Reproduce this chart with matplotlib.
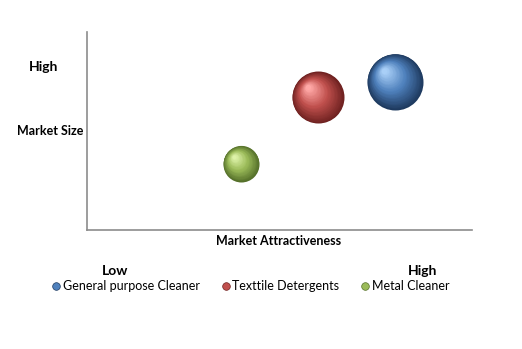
import matplotlib
matplotlib.use("Agg")
import matplotlib.pyplot as plt
import matplotlib.transforms as mtransforms
import numpy as np
from matplotlib.colors import to_rgb
from matplotlib.lines import Line2D

# data
products = ["General purpose Cleaner", "Texttile Detergents", "Metal Cleaner"]
attractiveness = [8.0, 6.0, 4.0]
market_size = [7.5, 6.7, 3.35]
bubble_radius = [28, 26, 18]  # relative bubble size

base_colors = ["#4F81BD", "#C0504D", "#9BBB59"]
dark_colors = ["#1E3A5F", "#6E2120", "#55702A"]
light_colors = ["#A9CFF7", "#FFA8A6", "#DDF2A8"]

plt.rcParams["font.family"] = ["Lato", "DejaVu Sans"]

fig = plt.figure(figsize=(5.22, 3.49), dpi=100)
ax = fig.add_axes([87 / 522, 1 - 230 / 349, 385 / 522, 198 / 349])
ax.set_xlim(0, 10)
ax.set_ylim(0, 10)


def mix(c1, c2, t):
    a, b = np.array(to_rgb(c1)), np.array(to_rgb(c2))
    return tuple(a + (b - a) * t)


px2pt = 72 / fig.dpi
n_layers = 40
for x, y, r, base, dark, light in zip(attractiveness, market_size, bubble_radius,
                                      base_colors, dark_colors, light_colors):
    r_pt = r * px2pt
    for i in range(n_layers):
        t = i / (n_layers - 1)
        rad = r_pt * (1 - 0.9 * t)
        off = r_pt * 0.38 * t
        if t < 0.5:
            col = mix(dark, base, t / 0.5)
        else:
            col = mix(base, light, (t - 0.5) / 0.5)
        tr = mtransforms.offset_copy(ax.transData, fig=fig, x=-off, y=off, units="points")
        ax.scatter([x], [y], s=(2 * rad) ** 2, color=col, transform=tr,
                   linewidths=0, zorder=3 + i)

for s in ["top", "right"]:
    ax.spines[s].set_visible(False)
for s in ["left", "bottom"]:
    ax.spines[s].set_color("#8c8c8c")
    ax.spines[s].set_linewidth(1.2)
ax.set_xticks([])
ax.set_yticks([])

fig.text(44 / 522, 1 - 67 / 349, "High", ha="center", va="center",
         fontsize=10, fontweight="bold")
fig.text(83 / 522, 1 - 131 / 349, "Market Size", ha="right", va="center",
         fontsize=9, fontweight="bold")
fig.text(279 / 522, 1 - 241 / 349, "Market Attractiveness", ha="center", va="center",
         fontsize=9, fontweight="bold")
fig.text(115 / 522, 1 - 271 / 349, "Low", ha="center", va="center",
         fontsize=10, fontweight="bold")
fig.text(423 / 522, 1 - 271 / 349, "High", ha="center", va="center",
         fontsize=10, fontweight="bold")

handles = [Line2D([], [], marker="o", linestyle="", markersize=5.5,
                  markerfacecolor=c, markeredgecolor=d, markeredgewidth=0.5)
           for c, d in zip(base_colors, dark_colors)]
fig.legend(handles, products, loc="center", ncol=3, frameon=False,
           bbox_to_anchor=(251 / 522, 1 - 286 / 349), fontsize=9,
           handlelength=0.6, handletextpad=0.2, columnspacing=1.8)

fig.savefig("out.png", dpi=100)
